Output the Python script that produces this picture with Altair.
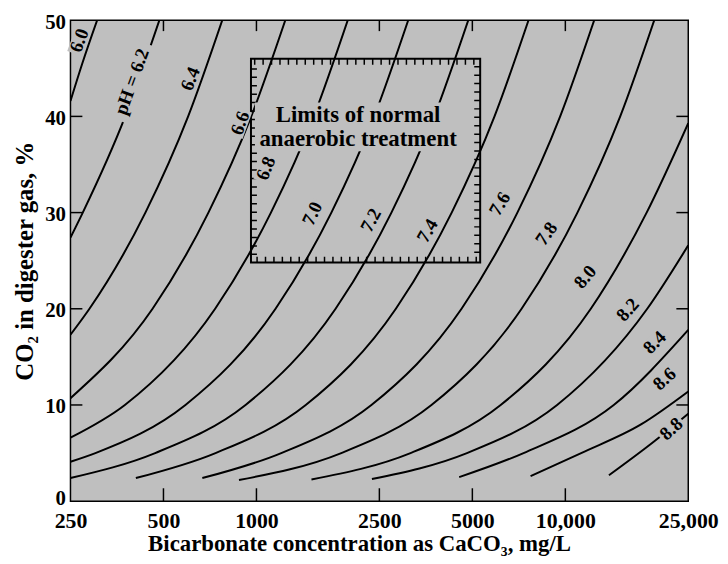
import altair as alt
import pandas as pd

# ---- pH curves: bicarbonate (mg/L as CaCO3) vs CO2 in digester gas (%) ----
x_60 = [250, 273, 305]
y_60 = [41.6, 45.5, 50]
x_62 = [250, 274, 376, 485]
y_62 = [27.4, 30, 40, 50]
x_64 = [250, 288, 437, 601, 775]
y_64 = [17.3, 20, 30, 40, 50]
x_66 = [250, 461, 699, 962, 1240]
y_66 = [10.7, 20, 30, 40, 50]
x_68 = [250, 375, 735, 1114, 1533, 1975]
y_68 = [6.6, 10, 20, 30, 40, 50]
x_70 = [250, 301, 589, 1153, 1748, 2406, 3100]
y_70 = [4.1, 5, 10, 20, 30, 40, 50]
x_72 = [250, 470, 922, 1804, 2735, 3764, 4850]
y_72 = [2.4, 5, 10, 20, 30, 40, 50]
x_74 = [407, 737, 1444, 2827, 4286, 5898, 7600]
y_74 = [2.4, 5, 10, 20, 30, 40, 50]
x_76 = [668, 1203, 2356, 4613, 6994, 9622, 12400]
y_76 = [2.4, 5, 10, 20, 30, 40, 50]
x_78 = [878, 1882, 3686, 7217, 10942, 15054, 19400]
y_78 = [2.2, 5, 10, 20, 30, 40, 50]
x_80 = [1507, 3153, 6175, 12090, 18330, 25000]
y_80 = [2.25, 5, 10, 20, 30, 39.3]
x_82 = [2365, 4802, 9405, 18414, 25000]
y_82 = [2.3, 5, 10, 20, 26.6]
x_84 = [4532, 7323, 14345, 25000]
y_84 = [2.5, 5, 10, 17.8]
x_86 = [7717, 11252, 17632, 25000]
y_86 = [2.6, 5, 8, 11.4]
x_88 = [13840, 19000, 25000]
y_88 = [2.7, 6.0, 9.1]

ph_names = ["6.0", "6.2", "6.4", "6.6", "6.8", "7.0", "7.2", "7.4",
            "7.6", "7.8", "8.0", "8.2", "8.4", "8.6", "8.8"]
curve_x = [x_60, x_62, x_64, x_66, x_68, x_70, x_72, x_74,
           x_76, x_78, x_80, x_82, x_84, x_86, x_88]
curve_y = [y_60, y_62, y_64, y_66, y_68, y_70, y_72, y_74,
           y_76, y_78, y_80, y_82, y_84, y_86, y_88]

# ---- curve labels ----
label_text = ["6.0", "pH = 6.2", "6.4", "6.6", "6.8", "7.0", "7.2", "7.4",
              "7.6", "7.8", "8.0", "8.2", "8.4", "8.6", "8.8"]
label_x = [267, 395, 611, 885, 1072, 1518, 2348, 3577,
           6136, 8688, 11590, 15930, 19450, 20940, 22040]
label_y = [47.9, 43.6, 43.9, 39.3, 34.6, 29.9, 29.2, 28.1,
           30.9, 27.8, 23.3, 19.9, 16.5, 12.7, 7.5]
label_angle = [290, 290, 292, 290, 292, 295, 298, 300,
               300, 305, 310, 312, 315, 318, 318]

# ---- limits box ----
box_x = [960]
box_x2 = [5300]
box_y = [24.8]
box_y2 = [46]
box_text_x = [2133]
box_text_y = [40.1]
box_text = ["Limits of normal\nanaerobic treatment"]

# ---- axes ----
x_ticks = [250, 500, 1000, 2500, 5000, 10000, 25000]
y_ticks = [0, 10, 20, 30, 40, 50]

rows = []
for name, xs, ys in zip(ph_names, curve_x, curve_y):
    for i, (xv, yv) in enumerate(zip(xs, ys)):
        rows.append({"ph": name, "x": xv, "y": yv, "order": i})
curves_df = pd.DataFrame(rows)
labels_df = pd.DataFrame({"t": label_text, "x": label_x, "y": label_y, "a": label_angle})
box_df = pd.DataFrame({"x": box_x, "x2": box_x2, "y": box_y, "y2": box_y2})
boxtext_df = pd.DataFrame({"x": box_text_x, "y": box_text_y, "t": box_text})
xt_df = pd.DataFrame({"v": x_ticks[1:-1]})
yt_df = pd.DataFrame({"v": y_ticks[1:-1]})

BG = "#bfbfbf"
FONT = "Liberation Serif"

xscale = alt.Scale(type="log", domain=[250, 25000], nice=False)
yscale = alt.Scale(domain=[0, 50], nice=False)

x_axis = alt.Axis(
    values=x_ticks,
    labelExpr="datum.value >= 10000 ? format(datum.value, ',') : format(datum.value, 'd')",
    title="Bicarbonate concentration as CaCO\u2083, mg/L",
    grid=False, ticks=False, domain=False,
    labelFont=FONT, labelFontWeight="bold", labelFontSize=22, labelColor="black",
    labelPadding=10, labelFlush=False, labelOverlap=False,
    titleFont=FONT, titleFontWeight="bold", titleFontSize=23, titleColor="black",
    titleX=291, titleY=32, titleAlign="center", titleBaseline="top",
)
y_axis = alt.Axis(
    values=y_ticks,
    title="CO\u2082 in digester gas, %",
    grid=False, ticks=False, domain=False,
    labelFont=FONT, labelFontWeight="bold", labelFontSize=21, labelColor="black",
    labelPadding=5,
    labelOffset={"condition": {"test": "datum.value == 0", "value": -3}, "value": 2},
    labelFlush=False, labelOverlap=False,
    titleFont=FONT, titleFontWeight="bold", titleFontSize=25, titleColor="black",
    titlePadding=7,
)

lines = alt.Chart(curves_df).mark_line(
    color="black", strokeWidth=2, interpolate="monotone", clip=True
).encode(
    x=alt.X("x:Q", scale=xscale, axis=x_axis),
    y=alt.Y("y:Q", scale=yscale, axis=y_axis),
    detail="ph:N",
    order="order:Q",
)

box_hatch = alt.Chart(box_df).mark_rect(
    filled=False, stroke="black", strokeWidth=6, strokeDash=[1.5, 7],
    xOffset=3, x2Offset=-3, yOffset=-3, y2Offset=3
).encode(x="x:Q", x2="x2:Q", y="y:Q", y2="y2:Q")

box = alt.Chart(box_df).mark_rect(
    filled=False, stroke="black", strokeWidth=2
).encode(x="x:Q", x2="x2:Q", y="y:Q", y2="y2:Q")

# gray patches that break the curves behind the labels
RECT_SHORT = "M-1,-0.55L1,-0.55L1,0.55L-1,0.55Z"
RECT_LONG = "M-1,-0.2L1,-0.2L1,0.2L-1,0.2Z"
label_patch_short = alt.Chart(labels_df).transform_filter(
    "length(datum.t) <= 3"
).mark_point(
    shape=RECT_SHORT, filled=True, fill=BG, strokeWidth=0,
    opacity=1, size=800
).encode(x="x:Q", y="y:Q", angle=alt.Angle("a:Q", scale=None))
label_patch_long = alt.Chart(labels_df).transform_filter(
    "length(datum.t) > 3"
).mark_point(
    shape=RECT_LONG, filled=True, fill=BG, strokeWidth=0,
    opacity=1, size=6800
).encode(x="x:Q", y="y:Q", angle=alt.Angle("a:Q", scale=None))

label_txt = alt.Chart(labels_df).mark_text(
    font=FONT, fontWeight="bold", fontSize=19, color="black"
).encode(x="x:Q", y="y:Q", text="t:N", angle=alt.Angle("a:Q", scale=None))

boxtext_patch = alt.Chart(boxtext_df).mark_rect(
    fill=BG, xOffset=-104, x2Offset=104, yOffset=-13, y2Offset=36
).encode(x="x:Q", x2="x:Q", y="y:Q", y2="y:Q")

boxtext = alt.Chart(boxtext_df).mark_text(
    font=FONT, fontWeight="bold", fontSize=23, color="black",
    lineHeight=24, lineBreak="\n"
).encode(x="x:Q", y="y:Q", text="t:N")

tick_bottom = alt.Chart(xt_df).mark_rule(color="black", strokeWidth=1.5).encode(
    x="v:Q", y=alt.value(485), y2=alt.value(472))
tick_top = alt.Chart(xt_df).mark_rule(color="black", strokeWidth=1.5).encode(
    x="v:Q", y=alt.value(0), y2=alt.value(11))
tick_left = alt.Chart(yt_df).mark_rule(color="black", strokeWidth=1.5).encode(
    y="v:Q", x=alt.value(0), x2=alt.value(12))
tick_right = alt.Chart(yt_df).mark_rule(color="black", strokeWidth=1.5).encode(
    y="v:Q", x=alt.value(623), x2=alt.value(611))

chart = alt.layer(
    lines, box_hatch, box, label_patch_short, label_patch_long, label_txt,
    boxtext_patch, boxtext,
    tick_bottom, tick_top, tick_left, tick_right
).properties(
    width=623, height=485,
    autosize=alt.AutoSizeParams(type="none"),
    padding={"left": 63, "top": 10, "right": 32, "bottom": 53},
    background="white",
).configure_view(
    fill=BG, stroke="black", strokeWidth=1.5
)

chart.save("out.html", embed_options={"renderer": "svg", "actions": False})
